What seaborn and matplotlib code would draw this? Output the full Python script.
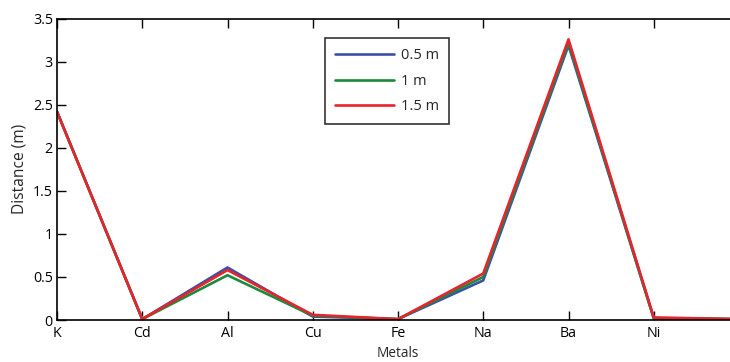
import matplotlib
matplotlib.use("Agg")
import matplotlib.pyplot as plt
import pandas as pd
import seaborn as sns

# values
metals = ["K", "Cd", "Al", "Cu", "Fe", "Na", "Ba", "Ni", ""]
dist_05 = [2.42, 0.01, 0.61, 0.04, 0.01, 0.46, 3.19, 0.02, 0.01]
dist_1 = [2.42, 0.01, 0.52, 0.05, 0.01, 0.50, 3.22, 0.02, 0.01]
dist_15 = [2.42, 0.01, 0.58, 0.06, 0.01, 0.54, 3.26, 0.03, 0.01]
series = ["0.5 m", "1 m", "1.5 m"]
colors = ["#3d4fa6", "#1a8a3c", "#e8232b"]

df = pd.concat([
    pd.DataFrame({"idx": range(len(metals)), "dist": vals, "series": name})
    for name, vals in zip(series, [dist_05, dist_1, dist_15])
])

sns.set_style("white")
plt.rcParams["font.family"] = ["Open Sans", "DejaVu Sans"]

fig = plt.figure(figsize=(7.3, 3.62), dpi=100)
ax = fig.add_axes([57 / 730, 1 - 320 / 362, (739 - 57) / 730, (320 - 18.7) / 362])

sns.lineplot(data=df, x="idx", y="dist", hue="series", hue_order=series,
             palette=colors, sort=False, linewidth=1.9, ax=ax)

ax.set_xlim(0, 8)
ax.set_ylim(0, 3.5)
ax.set_xticks(range(len(metals)))
ax.set_xticklabels(metals)
ax.set_yticks([0, 0.5, 1, 1.5, 2, 2.5, 3, 3.5])
ax.set_yticklabels(["0", "0.5", "1", "1.5", "2", "2.5", "3", "3.5"])
ax.tick_params(axis="both", direction="in", length=6.5, width=1, labelsize=10.3,
               colors="black")
ax.tick_params(axis="x", top=True, bottom=True, pad=4)
ax.tick_params(axis="y", left=True, right=False, pad=3)
for side in ["left", "bottom", "top"]:
    ax.spines[side].set_color("black")
    ax.spines[side].set_linewidth(1.2)
ax.spines["right"].set_visible(False)

ax.set_xlabel("Metals", fontsize=9.8, labelpad=4)
ax.set_ylabel("Distance (m)", fontsize=11.2, labelpad=4)

leg = ax.legend(loc="upper left", bbox_to_anchor=(0.393, 0.935), fontsize=10.5,
                frameon=True, fancybox=False, handlelength=4.0, borderpad=0.7,
                labelspacing=0.7, handletextpad=0.5, borderaxespad=0)
leg.get_frame().set_edgecolor("black")
leg.get_frame().set_linewidth(1.2)

fig.savefig("out.png", dpi=100)
